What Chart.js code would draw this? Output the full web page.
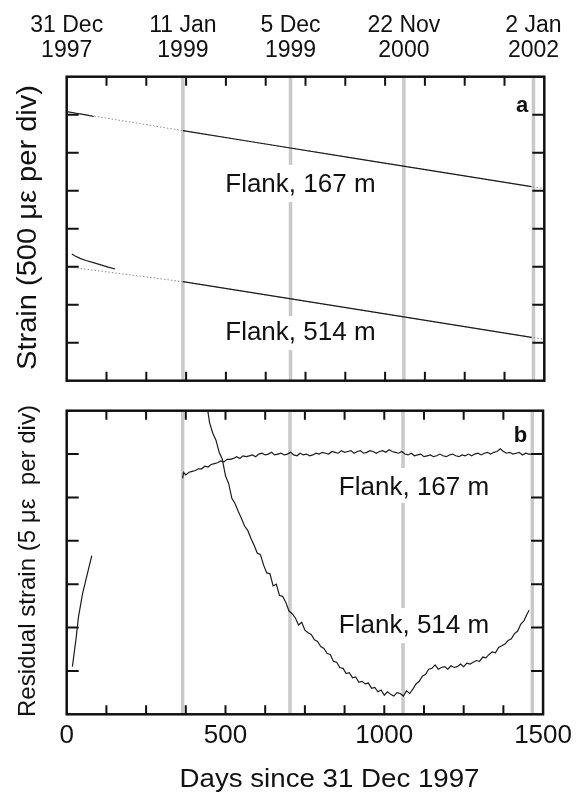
<!DOCTYPE html>
<html><head><meta charset="utf-8">
<script src="https://cdn.jsdelivr.net/npm/chart.js@4.4.0/dist/chart.umd.min.js"></script>
<style>
html,body{margin:0;padding:0;background:#fff;width:578px;height:792px;overflow:hidden}
canvas{position:absolute;left:0;top:0}
</style></head><body>
<canvas id="ca" width="578" height="792"></canvas>
<canvas id="cb" width="578" height="792"></canvas>
<script>
const FONT = '"Liberation Sans", Arial, Helvetica, sans-serif';

// ---- shared axis data ----
const xRange = [0, 1500];
const xStep = 125;
const xTickLabels = [0, 500, 1000, 1500];
const eventDays = [365, 703, 1059, 1466];
const topLabelDays = [0, 365, 703, 1059, 1466];
const topLabels = [["31 Dec","1997"],["11 Jan","1999"],["5 Dec","1999"],["22 Nov","2000"],["2 Jan","2002"]];

// ---- panel a (strain, microstrain) ----
const aYRange = [0, 4000];
const aYStep = 500;
const a167Days = [0, 30, 60, 85, 200, 365, 600, 900, 1200, 1460];
const a167Vals = [3540, 3519, 3497, 3476, null, 3290, 3131, 2929, 2728, 2553];
const a167ModelDays = [0, 365, 1460, 1500];
const a167ModelVals = [3540, 3290, 2553, 2527];
const a514Days = [16, 25, 42, 60, 84, 110, 130, 152, 250, 365, 700, 1000, 1460];
const a514Vals = [1667, 1645, 1610, 1582, 1553, 1521, 1495, 1470, null, 1303, 1080, 879, 571];
const a514ModelDays = [0, 365, 1460, 1500];
const a514ModelVals = [1500, 1303, 571, 545];

// ---- panel b (residual strain, microstrain) ----
const bYRange = [0, 35];
const bYStep = 5;
const b514EarlyDays = [18, 30, 37, 50, 65, 79];
const b514EarlyVals = [5.5, 8.9, 11.2, 13.9, 16.2, 18.3];
const b514Days = [
 430,440,450,460,470,480,490,500,510,520,
 530,540,550,560,570,580,590,600,610,620,
 630,640,650,660,670,680,690,700,710,720,
 730,740,750,760,770,780,790,800,810,820,
 830,840,850,860,870,880,890,900,910,920,
 930,940,950,960,970,980,990,1000,1010,1020,
 1030,1040,1050,1060,1070,1080,1090,1100,1110,1120,
 1130,1140,1150,1160,1170,1180,1190,1200,1210,1220,
 1230,1240,1250,1260,1270,1280,1290,1300,1310,1320,
 1330,1340,1350,1360,1370,1380,1390,1400,1410,1420,
 1430,1440,1450,1456];
const b514Vals = [
 38.5,36.0,33.6,32.4,31.6,30.2,29.4,27.5,26.6,24.9,
 24.3,23.4,22.6,21.7,21.2,20.3,19.5,18.6,18.4,17.2,
 16.3,16.2,14.8,15.0,13.7,13.6,12.9,11.9,11.6,11.1,
 10.3,10.6,9.7,9.4,9.2,8.6,8.4,7.8,7.6,7.0,
 6.9,6.1,6.0,5.4,5.3,4.7,4.8,4.2,4.3,3.7,
 3.8,3.5,3.6,3.0,3.1,2.6,2.8,2.2,2.6,2.3,
 2.1,2.5,2.4,2.1,2.7,2.4,2.9,3.5,3.8,4.4,
 4.6,5.2,5.3,5.7,5.2,5.4,5.5,5.2,5.6,5.4,
 5.5,5.8,5.5,5.9,5.8,6.0,6.2,6.1,6.6,6.5,
 6.9,7.2,7.1,7.7,7.9,8.1,8.5,8.7,9.3,9.6,
 10.4,10.8,11.6,12.0];
const b167Days = [
 365,368,
 375,385,395,405,415,425,435,445,455,465,
 475,485,495,505,515,525,535,545,555,565,
 575,585,595,605,615,625,635,645,655,665,
 675,685,695,705,715,725,735,745,755,765,
 775,785,795,805,815,825,835,845,855,865,
 875,885,895,905,915,925,935,945,955,965,
 975,985,995,1005,1015,1025,1035,1045,1055,1065,
 1075,1085,1095,1105,1115,1125,1135,1145,1155,1165,
 1175,1185,1195,1205,1215,1225,1235,1245,1255,1265,
 1275,1285,1295,1305,1315,1325,1335,1345,1355,1365,
 1375,1385,1395,1405,1415,1425,1435,1445,1455,1465];
const b167Vals = [
 27.2,27.9,
 27.6,27.9,28.0,28.1,28.3,28.3,28.6,28.5,28.8,28.9,
 29.0,29.2,29.1,29.4,29.4,29.5,29.7,29.5,29.8,29.7,
 29.8,29.9,29.7,30.0,30.1,29.9,30.0,30.2,29.9,30.0,
 30.1,29.9,30.0,30.2,29.9,29.8,30.1,29.9,30.0,29.8,
 29.9,30.1,30.0,30.2,30.1,30.0,30.3,30.2,30.1,30.4,
 30.2,30.3,30.4,30.1,30.3,30.4,30.1,30.2,30.4,30.3,
 30.1,30.3,30.4,30.2,30.5,30.3,30.2,30.1,30.3,30.0,
 29.9,30.1,29.8,29.9,30.0,29.7,29.8,29.9,29.7,29.8,
 30.0,29.8,29.7,29.9,30.0,29.8,29.7,29.9,29.8,30.0,
 29.8,30.0,30.1,29.9,30.1,30.2,30.0,30.2,30.3,30.6,
 30.3,30.1,30.2,30.0,30.1,30.2,29.9,30.1,30.0,30.0];

// ---- helpers ----
const pts = (d, v) => d.map((x, i) => ({x: x, y: v[i]}));
const DATA_COL = '#1c1c1c';
const MODEL_COL = '#8c8c8c';
const EVENT_COL = '#c9c9c9';

function dataSet(d, v) {
  return {data: pts(d, v), borderColor: DATA_COL, borderWidth: 1.2, pointRadius: 0, tension: 0, order: 1, clip: 0};
}
function modelSet(d, v) {
  return {data: pts(d, v), borderColor: MODEL_COL, borderWidth: 1, borderDash: [1.5, 2], pointRadius: 0, order: 2, clip: 0};
}
function eventSets(yr) {
  return eventDays.map(d => ({data: [{x: d, y: yr[0]}, {x: d, y: yr[1]}], borderColor: EVENT_COL, borderWidth: 3.5, pointRadius: 0, order: 5}));
}

function txt(ctx, s, x, y, size, o = {}) {
  ctx.save();
  ctx.font = (o.bold ? 'bold ' : '') + size + 'px ' + FONT;
  ctx.fillStyle = '#111';
  ctx.textBaseline = 'alphabetic';
  ctx.translate(x, y);
  if (o.rot) ctx.rotate(o.rot);
  const w = ctx.measureText(s).width;
  if (o.width) ctx.scale(o.width / w, 1);
  ctx.textAlign = o.align || 'center';
  ctx.fillText(s, 0, 0);
  ctx.restore();
}

function tickValues(scale, step, range) {
  let v = (scale.ticks && scale.ticks.length) ? scale.ticks.map(t => t.value) : [];
  if (!v.length) { for (let t = range[0]; t <= range[1] + 1e-9; t += step) v.push(t); }
  return v.filter(t => t > range[0] && t < range[1]);
}

function panelPlugin(cfg) {
  return {
    id: 'panel_' + cfg.name,
    afterDatasetsDraw(chart) {
      const ctx = chart.ctx, a = chart.chartArea, xs = chart.scales.x, ys = chart.scales.y;
      ctx.save();
      for (const L of cfg.labels) {
        ctx.fillStyle = '#fff';
        ctx.fillRect(L.box[0], L.box[1], L.box[2] - L.box[0], L.box[3] - L.box[1]);
        txt(ctx, L.text, L.x, L.y, 26);
      }
      ctx.strokeStyle = '#111';
      ctx.lineWidth = 2;
      ctx.beginPath();
      for (const v of tickValues(xs, xStep, xRange)) {
        const p = xs.getPixelForValue(v);
        ctx.moveTo(p, a.bottom); ctx.lineTo(p, a.bottom - 9);
        ctx.moveTo(p, a.top); ctx.lineTo(p, a.top + 9);
      }
      for (const v of tickValues(ys, cfg.yStep, cfg.yRange)) {
        const p = ys.getPixelForValue(v);
        ctx.moveTo(a.left, p); ctx.lineTo(a.left + 12, p);
        ctx.moveTo(a.right, p); ctx.lineTo(a.right - 12, p);
      }
      ctx.stroke();
      ctx.lineWidth = 2.5;
      ctx.strokeRect(a.left, a.top, a.right - a.left, a.bottom - a.top);
      txt(ctx, cfg.letter, a.right - 16, cfg.letterY, 22, {bold: true, align: 'right'});
      if (cfg.extra) cfg.extra(chart);
      ctx.restore();
    }
  };
}

const hiddenAxis = (range, step) => ({
  type: 'linear', display: false, min: range[0], max: range[1], ticks: {stepSize: step}
});

// ---- chart a ----
new Chart(document.getElementById('ca'), {
  type: 'line',
  data: {datasets: [
    dataSet(a167Days, a167Vals), modelSet(a167ModelDays, a167ModelVals),
    dataSet(a514Days, a514Vals), modelSet(a514ModelDays, a514ModelVals),
    ...eventSets(aYRange)
  ]},
  options: {
    responsive: false, animation: false, devicePixelRatio: 1,
    layout: {padding: {left: 66.7, right: 33.7, top: 76.7, bottom: 411.3}},
    plugins: {legend: {display: false}, tooltip: {enabled: false}},
    scales: {x: hiddenAxis(xRange, xStep), y: hiddenAxis(aYRange, aYStep)}
  },
  plugins: [panelPlugin({
    name: 'a', letter: 'a', letterY: 111.7, yStep: aYStep, yRange: aYRange,
    labels: [
      {text: 'Flank, 167 m', x: 300.4, y: 191.7, box: [217, 165, 386, 202]},
      {text: 'Flank, 514 m', x: 300.4, y: 340, box: [217, 316, 386, 350]}
    ],
    extra(chart) {
      const ctx = chart.ctx, xs = chart.scales.x;
      topLabelDays.forEach((d, i) => {
        const p = xs.getPixelForValue(d);
        txt(ctx, topLabels[i][0], p, 32.3, 23);
        txt(ctx, topLabels[i][1], p, 56.7, 23);
      });
      txt(ctx, 'Strain (500 \u03BC\u03B5 per div)', 36, 227.5, 27, {rot: -Math.PI / 2, width: 285});
    }
  })]
});

// ---- chart b ----
new Chart(document.getElementById('cb'), {
  type: 'line',
  data: {datasets: [
    dataSet(b514EarlyDays, b514EarlyVals), dataSet(b514Days, b514Vals), dataSet(b167Days, b167Vals),
    ...eventSets(bYRange)
  ]},
  options: {
    responsive: false, animation: false, devicePixelRatio: 1,
    layout: {padding: {left: 66.7, right: 33.7, top: 410.7, bottom: 32.7}},
    plugins: {legend: {display: false}, tooltip: {enabled: false}},
    scales: {
      x: {
        type: 'linear', min: xRange[0], max: xRange[1],
        grid: {display: false, drawTicks: false},
        border: {display: false},
        ticks: {
          stepSize: xStep, autoSkip: false, maxRotation: 0, padding: 6,
          color: '#111', font: {family: FONT, size: 26},
          callback: v => xTickLabels.includes(v) ? String(v) : ''
        },
        afterFit: s => { s.height = 45; }
      },
      y: hiddenAxis(bYRange, bYStep)
    }
  },
  plugins: [panelPlugin({
    name: 'b', letter: 'b', letterY: 441.7, yStep: bYStep, yRange: bYRange,
    labels: [
      {text: 'Flank, 167 m', x: 414, y: 495, box: [327, 468, 500, 503]},
      {text: 'Flank, 514 m', x: 414, y: 633.3, box: [327, 608, 500, 643]}
    ],
    extra(chart) {
      const ctx = chart.ctx;
      txt(ctx, 'Residual strain (5 \u03BC\u03B5  per div)', 35, 561, 24, {rot: -Math.PI / 2, width: 312});
      txt(ctx, 'Days since 31 Dec 1997', 329.5, 786.5, 25, {width: 300});
    }
  })]
});
</script>
</body></html>
